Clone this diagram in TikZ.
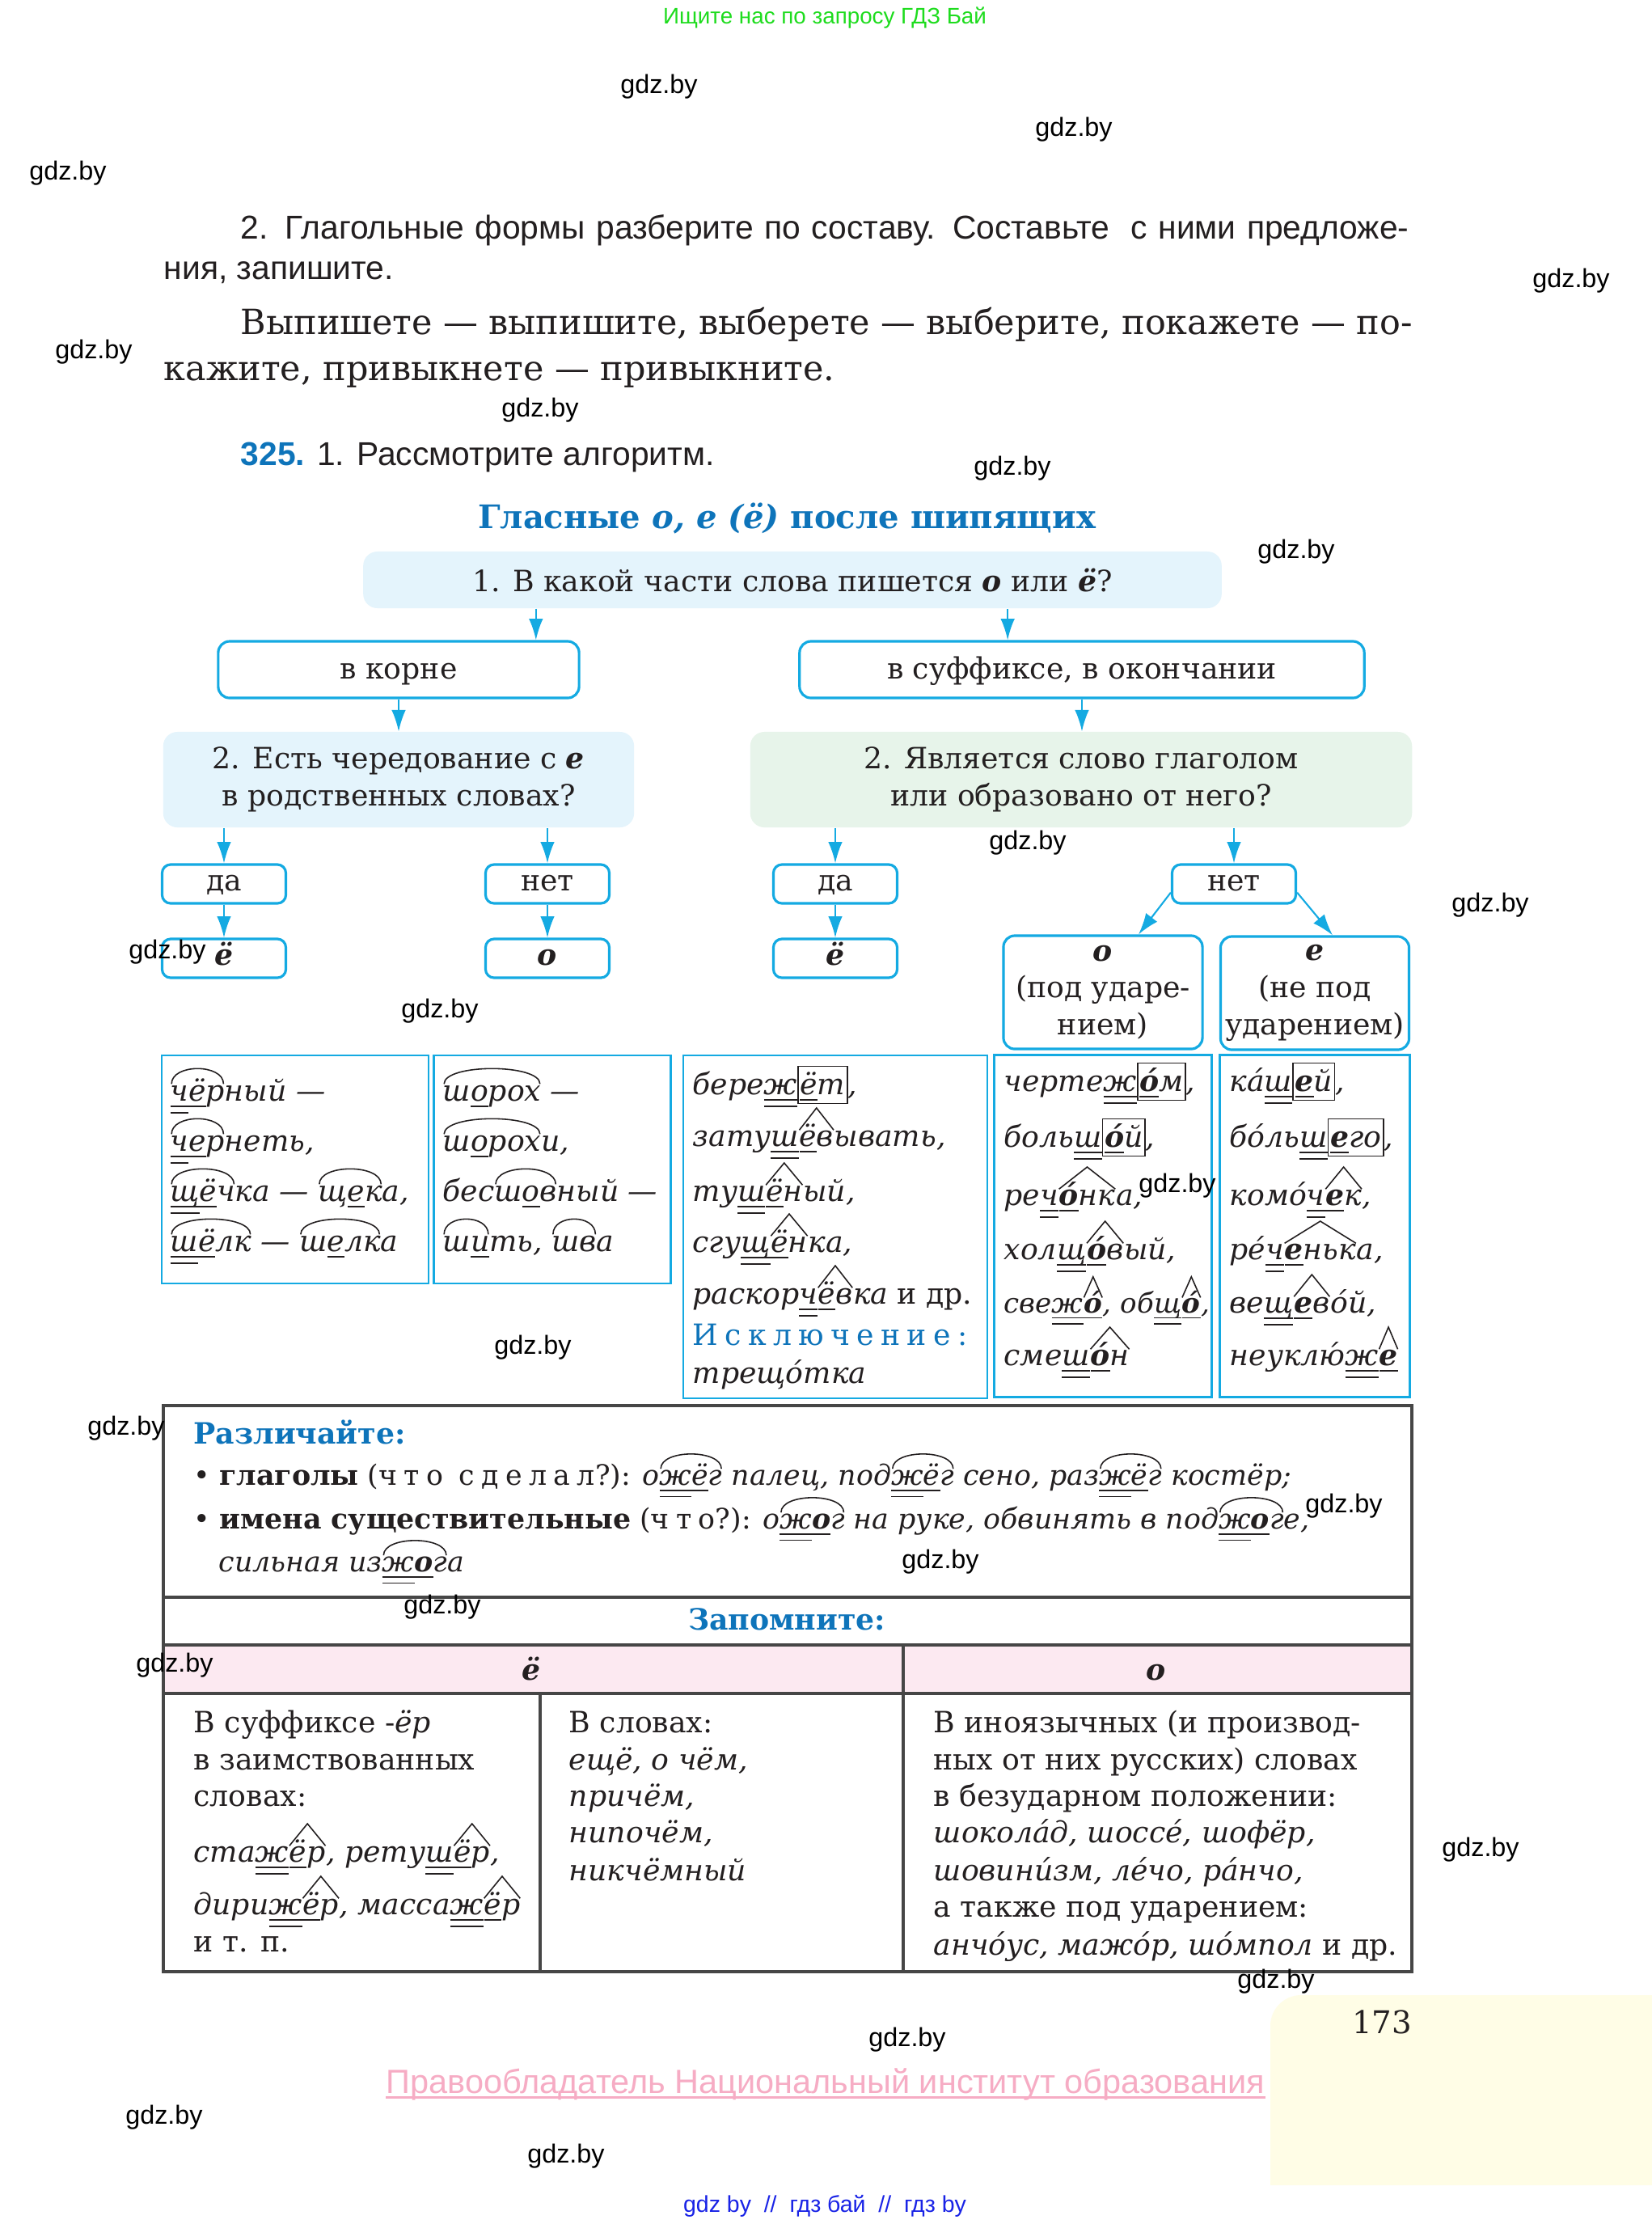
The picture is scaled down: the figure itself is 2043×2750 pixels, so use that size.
\documentclass[tikz,border=0pt]{standalone}
\usepackage{fontspec}
\setmainfont{DejaVu Serif}
\setsansfont{Liberation Sans}
\newfontfamily\wmfam{Liberation Sans}
\usetikzlibrary{arrows.meta,positioning,calc}

\definecolor{ink}{RGB}{35,31,32}
\definecolor{cyanline}{RGB}{20,170,226}
\definecolor{titleblue}{RGB}{14,116,186}
\definecolor{qblue}{RGB}{228,244,252}
\definecolor{qgreen}{RGB}{231,244,234}
\definecolor{headpink}{RGB}{252,233,241}
\definecolor{rulegray}{RGB}{70,70,70}
\definecolor{wmgreen}{RGB}{30,220,30}
\definecolor{rightspink}{RGB}{246,172,196}
\definecolor{footblue}{RGB}{25,35,230}
\definecolor{pageyellow}{RGB}{255,253,230}

\newcommand{\chartfont}{\fontsize{10.3pt}{13pt}\selectfont}
\newcommand{\notefont}{\fontsize{9.9pt}{13pt}\selectfont}
\newcommand{\parafont}{\fontsize{12.2pt}{15pt}\selectfont}
\newcommand{\sansfont}{\sffamily\fontsize{11.6pt}{15pt}\selectfont}
\newcommand{\titlefont}{\fontsize{11.4pt}{15pt}\selectfont\bfseries}
\newcommand{\wmfont}{\wmfam\fontsize{9.2pt}{11pt}\selectfont}
\newcommand{\spaced}[1]{{\addfontfeature{LetterSpace=24}#1}}

% morpheme marks
\newlength{\ulen}
\newcommand{\sul}[1]{\settowidth{\ulen}{#1}\rlap{\rule[-0.42ex]{\ulen}{0.45pt}}#1}
\newcommand{\dul}[1]{\settowidth{\ulen}{#1}\rlap{\rule[-0.42ex]{\ulen}{0.45pt}}\rlap{\rule[-0.85ex]{\ulen}{0.45pt}}#1}
\newcommand{\kor}[1]{\tikz[baseline=(k.base)]{\node[inner sep=0pt,outer sep=0pt,anchor=base,draw=none,fill=none,minimum width=0pt,minimum height=0pt](k){#1};
  \draw[ink,line width=0.45pt] ([shift={(0.04em,1.1ex)}]k.base west) .. controls ([shift={(0.04em,2.45ex)}]k.base west) and ([shift={(-0.04em,2.45ex)}]k.base east) .. ([shift={(-0.04em,1.1ex)}]k.base east);}}
\newcommand{\suf}[1]{\tikz[baseline=(s.base)]{\node[inner sep=0pt,outer sep=0pt,anchor=base,draw=none,fill=none,minimum width=0pt,minimum height=0pt](s){#1};
  \draw[ink,line width=0.45pt] ([yshift=1.05ex]s.base west) -- ([yshift=2.5ex]s.base) -- ([yshift=1.05ex]s.base east);}}
\newcommand{\ok}[1]{\tikz[baseline=(e.base)]\node[draw=ink,line width=0.5pt,fill=none,inner xsep=0.7pt,inner ysep=0pt,minimum width=0pt,minimum height=0pt,text height=0.95em,text depth=0.32em,anchor=base](e){#1};}

\begin{document}
\begin{tikzpicture}[x=0.01cm, y=-0.01cm,
  ln/.style={anchor=base west, inner sep=0pt, text=ink},
  cline/.style={anchor=base, inner sep=0pt, text=ink},
  qbox/.style={rectangle, rounded corners=5pt, fill=qblue, text=ink,
               font=\chartfont, align=center, inner sep=0pt},
  abox/.style={rectangle, rounded corners=4pt, draw=cyanline, line width=0.9pt,
               fill=white, text=ink, font=\chartfont, align=center, inner sep=0pt},
  onebox/.style={abox, text height=0.8em, text depth=0.12em},
  sbox/.style={abox, text height=0.72em, text depth=0.22em, rounded corners=3pt,
               minimum width=1.53cm, minimum height=0.48cm},
  exbox/.style={rectangle, draw=cyanline, line width=0.7pt, inner sep=0pt},
  arr/.style={draw=cyanline, line width=0.6pt, -{Latex[length=7.5pt,width=5pt]}},
  tabline/.style={draw=rulegray, line width=1pt},
  wmark/.style={font=\wmfont, text=black, inner sep=0pt},
  ex/.style={ln, font=\chartfont\itshape},
]
  \fill[white] (0,0) rectangle (2043,2750);
  \useasboundingbox (0,0) rectangle (2043,2750);

  % page corner
  \fill[pageyellow] (1571,2702) -- (1571,2505)
    arc[start angle=180, end angle=90, radius=0.38cm] -- (2043,2467) -- (2043,2702) -- cycle;
  \node[font=\fontsize{11pt}{13pt}\selectfont, text=ink] (pagenum) at (1709,2500) {173};

  % site header
  \node[cline, font=\wmfam\fontsize{7.9pt}{10pt}\selectfont, text=wmgreen] (hdr) at (1020,29)
       {Ищите нас по запросу ГДЗ Бай};

  % exercise text
  \node[ln, font=\sansfont] (t1) at (297,295)
       {\makebox[14.44cm][s]{2. Глагольные формы разберите по составу. Составьте\ \ с ними предложе-}};
  \node[ln, font=\sansfont] (t2) at (202,345) {ния, запишите.};
  \node[ln, font=\parafont] (t3) at (297,413)
       {\makebox[14.48cm][s]{Выпишете — выпишите, выберете — выберите, покажете — по-}};
  \node[ln, font=\parafont] (t4) at (202,470) {кажите, привыкнете — привыкните.};
  \node[ln, font=\sansfont] (t5) at (297,575)
       {\textcolor{titleblue}{\textbf{325.}} 1. Рассмотрите алгоритм.};

  % title
  \node[cline, font=\titlefont, text=titleblue] (title) at (973,653)
       {Гласные \textit{о, е (ё)} после шипящих};

  % algorithm: questions and answers
  \node[qbox, minimum width=10.61cm, minimum height=0.70cm] (q1) at (980,717)
       {1. В какой части слова пишется \textbf{\textit{о}} или \textbf{\textit{ё}}?};
  \node[onebox, minimum width=4.46cm, minimum height=0.70cm] (root) at (493,828) {в корне};
  \node[onebox, minimum width=6.98cm, minimum height=0.70cm] (ending) at (1338,828)
       {в суффиксе, в окончании};
  \node[qbox, minimum width=5.82cm, minimum height=1.18cm] (q2l) at (493,964)
       {2. Есть чередование с \textbf{\textit{е}}\\в родственных словах?};
  \node[qbox, fill=qgreen, minimum width=8.18cm, minimum height=1.18cm] (q2r) at (1337,964)
       {2. Является слово глаголом\\или образовано от него?};

  \node[sbox] (yesl) at (277,1093) {да};
  \node[sbox] (nol)  at (677,1093) {нет};
  \node[sbox] (yesr) at (1033,1093) {да};
  \node[sbox] (nor)  at (1526,1093) {нет};
  \node[sbox] (yol)  at (277,1185) {\textbf{\textit{ё}}};
  \node[sbox] (ol)   at (677,1185) {\textbf{\textit{о}}};
  \node[sbox] (yor)  at (1033,1185) {\textbf{\textit{ё}}};
  \node[abox, minimum width=2.46cm, minimum height=1.40cm] (ostress) at (1364,1227)
       {\textbf{\textit{о}}\\(под ударе-\\нием)};
  \node[abox, minimum width=2.33cm, minimum height=1.40cm] (eun) at (1626,1228)
       {\textbf{\textit{е}}\\(не под\\ударением)};

  \draw[arr] ([xshift=-3.17cm]q1.south) -- ([xshift=-3.17cm]q1.south |- root.north);
  \draw[arr] ([xshift=2.66cm]q1.south) -- ([xshift=2.66cm]q1.south |- ending.north);
  \draw[arr] (root) -- (q2l);
  \draw[arr] (ending.south) -- (ending.south |- q2r.north);
  \draw[arr] (q2l.south -| yesl) -- (yesl);
  \draw[arr] (q2l.south -| nol) -- (nol);
  \draw[arr] (q2r.south -| yesr) -- (yesr);
  \draw[arr] (q2r.south -| nor) -- (nor);
  \draw[arr] (yesl) -- (yol);
  \draw[arr] (nol) -- (ol);
  \draw[arr] (yesr) -- (yor);
  \draw[arr] ([yshift=0.15cm]nor.south west) -- ([xshift=0.44cm]ostress.north);
  \draw[arr] ([yshift=0.15cm]nor.south east) -- ([xshift=0.22cm]eun.north);

  % example frames
  \node[exbox, minimum width=3.30cm, minimum height=2.82cm] (exa) at (365,1446) {};
  \node[exbox, minimum width=2.93cm, minimum height=2.82cm] (exb) at (683,1446) {};
  \node[exbox, minimum width=3.76cm, minimum height=4.24cm] (exc) at (1033,1517) {};
  \node[exbox, minimum width=2.69cm, minimum height=4.23cm] (exd) at (1364,1516) {};
  \node[exbox, minimum width=2.35cm, minimum height=4.23cm] (exe) at (1626,1516) {};

  % root: alternation
  \node[ex] (a1) at (210,1361) {\kor{\dul{ч}\sul{ё}р}ный —};
  \node[ex] (a2) at (210,1423) {\kor{\dul{ч}\sul{е}р}неть,};
  \node[ex] (a3) at (210,1485) {\kor{\dul{щ}\sul{ё}ч}ка — \kor{щ\sul{е}к}а,};
  \node[ex] (a4) at (210,1547) {\kor{\dul{ш}\sul{ё}лк} — \kor{ш\sul{е}лк}а};
  \node[ex] (b1) at (547,1361) {\kor{ш\sul{о}рох} —};
  \node[ex] (b2) at (547,1423) {\kor{ш\sul{о}рох}и,};
  \node[ex] (b3) at (547,1485) {бес\kor{ш\sul{о}в}ный —};
  \node[ex] (b4) at (547,1547) {\kor{ш\sul{и}}ть, \kor{шв}а};

  % verbs
  \node[ex] (c1) at (856,1353) {бере\dul{ж}\ok{\sul{ё}т},};
  \node[ex] (c2) at (856,1417) {зату\dul{ш}\suf{\sul{ё}в}ывать,};
  \node[ex] (c3) at (856,1485) {ту\dul{ш}\suf{\sul{ё}н}ый,};
  \node[ex] (c4) at (856,1548) {сгу\dul{щ}\suf{\sul{ё}н}ка,};
  \node[ex] (c5) at (856,1612) {раскор\dul{ч}\suf{\sul{ё}в}ка \textup{и др.}};
  \node[ln, font=\chartfont, text=titleblue] (c6) at (856,1663)
       {\addfontfeature{LetterSpace=23}Исключение:};
  \node[ex] (c7) at (856,1710) {трещóтка};

  % stressed
  \node[ex] (d1) at (1241,1349) {черте\dul{ж}\ok{\sul{\textbf{ó}}м},};
  \node[ex] (d2) at (1241,1418) {боль\dul{ш}\ok{\sul{\textbf{ó}}й},};
  \node[ex] (d3) at (1241,1490) {ре\dul{ч}\suf{\sul{\textbf{ó}}нк}а,};
  \node[ex] (d4) at (1241,1557) {хол\dul{щ}\suf{\sul{\textbf{ó}}в}ый,};
  \node[ex, font=\fontsize{9.7pt}{13pt}\selectfont\itshape] (d5) at (1241,1623)
       {све\dul{ж}\suf{\sul{\textbf{ó}}}, об\dul{щ}\suf{\sul{\textbf{ó}}},};
  \node[ex] (d6) at (1241,1688) {сме\dul{ш}\suf{\sul{\textbf{ó}}н}};

  % unstressed
  \node[ex] (e1) at (1520,1349) {кá\dul{ш}\ok{\sul{\textbf{е}}й},};
  \node[ex] (e2) at (1520,1418) {бóль\dul{ш}\ok{\sul{\textbf{е}}го},};
  \node[ex] (e3) at (1520,1490) {комó\dul{ч}\suf{\sul{\textbf{е}}к},};
  \node[ex] (e4) at (1520,1557) {рé\dul{ч}\suf{\sul{\textbf{е}}ньк}а,};
  \node[ex] (e5) at (1520,1623) {ве\dul{щ}\suf{\sul{\textbf{е}}в}óй,};
  \node[ex] (e6) at (1520,1688) {неуклю́\dul{ж}\suf{\sul{\textbf{е}}}};

  % table frame
  \fill[headpink] (202,2034) rectangle (1746,2094);
  \draw[tabline] (202,1738) rectangle (1746,2438);
  \draw[tabline] (202,1975) -- (1746,1975);
  \draw[tabline] (202,2034) -- (1746,2034);
  \draw[tabline] (202,2094) -- (1746,2094);
  \draw[tabline] (1117,2034) -- (1117,2438);
  \draw[tabline] (668,2094) -- (668,2438);

  % distinguish
  \node[ln, font=\chartfont\bfseries, text=titleblue] (dist) at (239,1785) {Различайте:};
  \node[ln, font=\notefont] (dist1) at (239,1836)
       {• \textbf{глаголы} (\spaced{что сделал}?): \textit{о\kor{\dul{ж}\sul{ё}г} палец, под\kor{\dul{ж}\sul{ё}г} сено, раз\kor{\dul{ж}\sul{ё}г} костёр;}};
  \node[ln, font=\notefont] (dist2) at (239,1890)
       {• \textbf{имена существительные} (\spaced{что}?): \textit{о\kor{\dul{ж}\sul{\textbf{о}}г} на руке, обвинять в под\kor{\dul{ж}\sul{\textbf{о}}г}е,}};
  \node[ln, font=\notefont\itshape] (dist3) at (270,1943) {сильная из\kor{\dul{ж}\sul{\textbf{о}}г}а};

  % remember
  \node[cline, font=\chartfont\bfseries, text=titleblue] (memo) at (973,2015) {Запомните:};
  \node[cline, font=\chartfont\bfseries\itshape] (hyo) at (657,2077) {ё};
  \node[cline, font=\chartfont\bfseries\itshape] (ho) at (1430,2077) {о};

  \node[ln, font=\chartfont] (l1) at (239,2142) {В суффиксе -\textit{ёр}};
  \node[ln, font=\chartfont] (l2) at (239,2188) {в заимствованных};
  \node[ln, font=\chartfont] (l3) at (239,2233) {словах:};
  \node[ex] (l4) at (239,2302) {ста\dul{ж}\suf{\sul{ё}р}, рету\dul{ш}\suf{\sul{ё}р},};
  \node[ex] (l5) at (239,2367) {дири\dul{ж}\suf{\sul{ё}р}, масса\dul{ж}\suf{\sul{ё}р}};
  \node[ln, font=\chartfont] (l6) at (239,2413) {и т. п.};

  \node[ln, font=\chartfont] (m1) at (703,2142) {В словах:};
  \node[ex] (m2) at (703,2188) {ещё, о чём,};
  \node[ex] (m3) at (703,2233) {причём,};
  \node[ex] (m4) at (703,2278) {нипочём,};
  \node[ex] (m5) at (703,2325) {никчёмный};

  \node[ln, font=\chartfont] (r1) at (1154,2142) {В иноязычных (и производ-};
  \node[ln, font=\chartfont] (r2) at (1154,2188) {ных от них русских) словах};
  \node[ln, font=\chartfont] (r3) at (1154,2233) {в безударном положении:};
  \node[ex] (r4) at (1154,2278) {шоколáд, шоссé, шофёр,};
  \node[ex] (r5) at (1154,2325) {шовинúзм, лéчо, рáнчо,};
  \node[ln, font=\chartfont] (r6) at (1154,2370) {а также под ударением:};
  \node[ln, font=\chartfont] (r7) at (1154,2417) {\textit{анчóус, мажóр, шóмпол} и др.};

  % footer
  \node[cline, font=\wmfam\fontsize{11.8pt}{14pt}\selectfont, text=rightspink] (rights) at (1021,2588)
       {Правообладатель Национальный институт образования};
  \draw[rightspink, line width=0.8pt] ([yshift=-1.5pt]rights.base west) -- ([yshift=-1.5pt]rights.base east);
  \node[cline, font=\wmfam\fontsize{8.1pt}{10pt}\selectfont, text=footblue] (foot) at (1020,2735)
       {gdz by\ \ //\ \ гдз бай\ \ //\ \ гдз by};

  % watermarks
  \foreach \wx/\wy [count=\i] in {815/107, 1328/160, 84/214, 1943/347, 116/435, 668/507,
      1252/579, 1603/682, 1271/1042, 1843/1119, 207/1177, 544/1250, 1456/1466,
      659/1666, 156/1766, 1662/1862, 1163/1931, 547/1987, 216/2059, 1831/2287,
      1578/2450, 1122/2522, 203/2618, 700/2666}
    \node[wmark] (gdz\i) at (\wx,\wy) {gdz.by};
\end{tikzpicture}
\end{document}
